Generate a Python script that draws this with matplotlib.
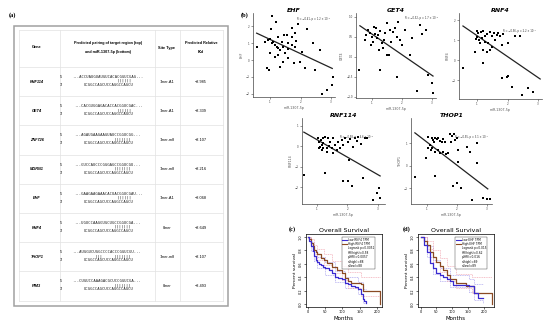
"""Composite figure: miR-1307-5p target table, expression scatters, survival curves."""

import matplotlib

matplotlib.use("Agg")
import matplotlib.pyplot as plt
from matplotlib.lines import Line2D
from matplotlib.patches import Rectangle

W, H = 550, 327

# ---- (a) table ----
genes = ["RNF114", "GET4", "ZNF726", "MGRN1", "EHF", "RNF4", "THOP1", "PIM3"]
targets = [
    "ACCUAUGUAUGUCACACGGUCGAG",
    "CACGUGGAGACACCACGGUCGAC",
    "AGAUGAAGAAGUAUCCGGUCGG",
    "GUCCAUCCCGGGAGCCGGUCGU",
    "GAAGAAGAAACACUACGGUCGAU",
    "UGUCCAAGGUGCUGCCGGUCGA",
    "AUGGUCUGGCCCCACCCGGUCGU",
    "CUGUCCAAAGACGCUCCGGUCGA",
]
pairings = ["||||||", "||||||", "|||||||", "|||||||", "||||||", "|||||||",
            "|||     |||||||", "|||||||"]
site_types = ["7mer-A1", "7mer-A1", "7mer-m8", "7mer-m8", "7mer-A1", "8mer",
              "7mer-m8", "8mer"]
kd_values = [-2.985, -2.339, -2.107, -2.216, -3.068, -2.649, -2.107, -3.493]
mirna = "UCGGCCAGCUCCAGGCCAGCU"

# ---- (b) scatter data (miR-1307-5p vs target expression) ----
ehf_x = [1.05, 1.19, 1.03, 0.57, 1.93, 2.2, 1.71, 1.82, 1.55, 1.47, 1.27, 1.38, 1.0, 1.11,
         0.92, 1.16, 1.22, 1.27, 1.33, 1.44, 1.6, 1.71, 1.49, 1.58, 1.82, 1.0, 1.16, 1.27,
         1.44, 1.33, 0.89, 0.95, 2.04, 1.98, 2.15, 2.48, 2.42, 2.64, 3.08, 3.04, 2.86, 2.69,
         1.71, 1.84, 1.05, 0.84, 1.6, 1.77]
ehf_y = [2.6, 2.24, 1.84, 0.8, 2.16, 1.84, 1.9, 1.6, 1.5, 1.5, 1.4, 1.1, 1.24, 1.1,
         1.2, 0.9, 0.8, 0.7, 0.6, 0.8, 1.0, 0.9, 0.4, 0.64, 0.8, 0.4, 0.2, 0.3,
         -0.1, -0.4, -0.5, -0.6, 0.5, -0.1, -0.5, -0.6, 1.0, 0.6, -1.0, -1.5, -1.76, -2.04,
         1.4, 1.16, 1.0, 1.1, 0.1, -0.2]
ehf_fit = ([0.56, 3.04], [1.6, -0.5])

get4_x = [1.07, 0.93, 1.0, 1.1, 1.17, 1.03, 1.27, 1.2, 1.33, 1.43, 1.5, 1.6, 1.7, 1.83,
          1.23, 1.5, 1.57, 0.57, 1.27, 1.83, 1.87, 2.0, 2.27, 2.67, 2.87, 3.0, 2.5, 3.03,
          0.87, 0.8, 1.13, 1.4, 1.63, 1.77, 2.1, 2.33, 0.77, 0.97, 1.37, 1.93, 2.6, 2.8]
get4_y = [0.75, 0.6, 0.5, 0.58, 0.48, 0.38, 0.65, 0.55, 0.35, 0.6, 0.85, 0.68, 0.63, 0.5,
          0.18, 0.05, 0.05, -0.33, -0.33, -0.5, 0.88, 0.3, 0.05, 0.58, -0.45, -0.65, -0.85, -0.9,
          0.68, 0.55, 0.73, 0.43, 0.38, 0.73, 0.68, 0.48, 0.43, 0.3, 0.23, 0.43, 0.8, 0.68]
get4_fit = ([0.6, 3.03], [0.78, -0.48])

rnf4_x = [0.54, 1.0, 1.03, 1.13, 1.2, 0.97, 1.07, 1.16, 1.26, 1.33, 1.43, 1.49, 1.56, 1.66,
          1.69, 1.75, 1.85, 2.25, 2.41, 1.26, 1.36, 1.49, 1.43, 1.2, 1.33, 0.93, 1.2, 2.02,
          1.82, 1.82, 1.98, 2.02, 2.15, 2.67, 2.84, 2.48, 1.1, 1.0, 1.59]
rnf4_y = [-0.4, 1.45, 1.35, 1.4, 1.45, 1.05, 1.0, 1.1, 1.2, 1.3, 1.4, 1.2, 1.35, 1.25,
          1.35, 1.2, 1.3, 1.2, 1.2, 0.9, 0.85, 0.65, 0.5, 0.5, 0.4, 0.4, -0.15, 0.85,
          0.75, -0.9, -0.85, -0.8, -1.35, -1.4, -1.6, -1.75, 0.85, 1.15, 1.0]
rnf4_fit = ([0.54, 3.07], [1.7, -0.95])

rnf114_x = [0.57, 1.26, 1.85, 2.02, 2.15, 2.05, 2.51, 2.84, 2.97, 3.03, 3.07, 2.64, 2.31, 2.44,
            2.08, 1.92, 1.82, 1.69, 1.59, 1.49, 1.33, 1.2, 1.16, 1.1, 1.07, 1.13, 1.03, 1.2,
            1.26, 1.36, 1.43, 1.52, 1.33, 1.66, 1.75, 1.85, 1.52, 1.16, 1.07, 1.2, 1.39, 2.02,
            2.25, 2.34, 2.57, 2.18]
rnf114_y = [-1.41, -1.32, -1.71, -1.71, -1.95, -0.68, -1.56, -2.63, -2.29, -2.05, -2.54, 0.39, 0.24, 0.1,
            0.34, 0.39, 0.29, 0.2, 0.05, -0.1, -0.1, 0.15, 0.05, -0.05, 0.2, 0.29, 0.39, 0.39,
            0.44, 0.39, 0.2, 0.39, -0.29, -0.2, -0.1, 0.05, -0.34, -0.2, -0.1, -0.1, 0.0, 0.2,
            0.39, 0.44, 0.39, -0.05]
rnf114_fit = ([0.57, 3.07], [0.68, -1.46])

thop1_x = [0.6, 0.97, 1.03, 1.03, 1.1, 1.17, 1.2, 1.23, 1.27, 1.33, 1.37, 1.43, 1.5, 1.53,
           1.6, 1.13, 1.17, 1.27, 1.37, 1.43, 1.53, 1.63, 1.7, 1.77, 1.83, 1.9, 2.0, 1.8,
           1.93, 2.03, 2.33, 2.43, 2.67, 2.03, 1.27, 1.87, 2.0, 2.13, 2.5, 2.87, 3.0, 3.1, 2.67]
thop1_y = [-0.49, 0.36, 1.29, 0.8, 0.93, 1.24, 1.16, 1.07, 1.24, 1.2, 1.24, 1.11, 1.07, 1.2,
           1.07, 0.71, 0.8, 0.62, 0.71, 0.58, 0.62, 0.53, 0.58, 1.42, 1.33, 1.42, 1.24, 1.07,
           1.16, 0.71, 0.84, 0.62, 1.02, 0.18, -0.44, -0.89, -0.76, -0.98, -1.51, -1.42, -1.47, -1.47, 0.13]
thop1_fit = ([0.6, 3.03], [1.47, -1.02])

# ---- (c)/(d) Kaplan-Meier curves (months, survival fraction) ----
c_low_t = [0, 5, 9, 14, 19, 24, 28, 33, 37, 45, 51, 60, 70, 79, 88, 98, 107, 116, 126, 135,
           144, 153, 158, 163, 167]
c_low_s = [1.0, 0.93, 0.86, 0.79, 0.72, 0.66, 0.62, 0.60, 0.58, 0.55, 0.53, 0.51, 0.46, 0.41,
           0.39, 0.37, 0.32, 0.30, 0.27, 0.25, 0.23, 0.15, 0.085, 0.05, 0.02]
c_high_t = [0, 5, 9, 14, 19, 24, 28, 37, 46, 56, 70, 84, 98, 107, 116, 126, 153, 158, 209]
c_high_s = [1.0, 0.96, 0.91, 0.86, 0.81, 0.77, 0.74, 0.69, 0.66, 0.61, 0.55, 0.51, 0.46,
            0.39, 0.34, 0.32, 0.30, 0.20, 0.0]
c_high_ci_t = [0, 9, 19, 28, 46, 70, 98, 116, 153, 209]
c_high_up = [1.0, 0.96, 0.88, 0.82, 0.74, 0.64, 0.56, 0.48, 0.41, 0.41]
c_high_lo = [1.0, 0.86, 0.74, 0.66, 0.58, 0.46, 0.36, 0.24, 0.13, 0.13]
c_low_ci_t = [0, 9, 19, 28, 51, 79, 107, 144, 158, 167]
c_low_up = [1.0, 0.92, 0.80, 0.70, 0.62, 0.50, 0.41, 0.33, 0.22, 0.22]
c_low_lo = [1.0, 0.79, 0.64, 0.54, 0.44, 0.33, 0.24, 0.15, 0.02, 0.02]
c_legend = ["Low RNF4 TPM", "High RNF4 TPM", "Logrank p=0.0051", "HR(high)=0.58",
            "p(HR)=0.0057", "n(high)=88", "n(low)=88"]

d_low_t = [0, 10, 19, 29, 40, 50, 60, 71, 82, 92, 102, 125, 154, 164, 170, 180, 196]
d_low_s = [1.0, 0.88, 0.78, 0.61, 0.54, 0.46, 0.43, 0.41, 0.37, 0.34, 0.29, 0.28, 0.27,
           0.27, 0.17, 0.10, 0.10]
d_high_t = [0, 10, 19, 29, 40, 50, 60, 71, 82, 92, 112, 144, 164, 170, 227]
d_high_s = [1.0, 0.94, 0.88, 0.78, 0.70, 0.63, 0.57, 0.51, 0.44, 0.37, 0.32, 0.27, 0.27,
            0.17, 0.0]
d_high_ci_t = [0, 19, 40, 60, 82, 112, 164, 227]
d_high_up = [1.0, 0.93, 0.80, 0.68, 0.56, 0.45, 0.40, 0.40]
d_high_lo = [1.0, 0.82, 0.62, 0.48, 0.35, 0.24, 0.16, 0.10]
d_low_ci_t = [0, 19, 40, 60, 92, 154, 170, 196]
d_low_up = [1.0, 0.86, 0.66, 0.54, 0.44, 0.38, 0.30, 0.30]
d_low_lo = [1.0, 0.70, 0.45, 0.34, 0.25, 0.18, 0.06, 0.02]
d_legend = ["Low EHF TPM", "High EHF TPM", "Logrank p=0.015", "HR(high)=0.62",
            "p(HR)=0.016", "n(high)=89", "n(low)=89"]

LOW_C, HIGH_C = "#3a2bd0", "#8a4a24"
LOW_CI, HIGH_CI = "#a9a2ee", "#f2a9b4"

fig = plt.figure(figsize=(5.5, 3.27), dpi=100)


def px_axes(x0, y0, x1, y1):
    return fig.add_axes([x0 / W, 1 - y1 / H, (x1 - x0) / W, (y1 - y0) / H])


bg = fig.add_axes([0, 0, 1, 1])
bg.set_xlim(0, W)
bg.set_ylim(H, 0)
bg.axis("off")

# panel labels
for lbl, x, y in [("(a)", 12, 15), ("(b)", 245, 15), ("(c)", 292, 229), ("(d)", 407, 229)]:
    bg.text(x, y, lbl, fontsize=4.5, fontweight="bold", ha="center", va="center",
            family="Liberation Serif")

# table frame and grid
bg.add_patch(Rectangle((14, 26), 214, 280, fill=False, ec="#a0a0a0", lw=1.1))
row_top, row_h = 67, 29.2
n = len(genes)
for k in range(n + 1):
    y = row_top + k * row_h
    bg.plot([19, 223], [y, y], color="#e2e2e2", lw=0.5)
bg.plot([19, 223], [30, 30], color="#e2e2e2", lw=0.5)
for x in [19, 60, 155, 180, 223]:
    bg.plot([x, x], [30, row_top + n * row_h], color="#e2e2e2", lw=0.5)

tf = "Liberation Sans"
bg.text(37, 47.5, "Gene", fontsize=2.8, fontweight="bold", ha="center", va="center", family=tf)
bg.text(108, 43, "Predicted pairing of target region (top)", fontsize=2.7,
        fontweight="bold", ha="center", va="center", family=tf)
bg.text(108, 52, "and miR-1307-5p (bottom)", fontsize=2.7, fontweight="bold",
        ha="center", va="center", family=tf)
bg.text(167, 47.5, "Site Type", fontsize=2.8, fontweight="bold", ha="center", va="center",
        family=tf)
bg.text(201, 43, "Predicted Relative", fontsize=2.7, fontweight="bold", ha="center",
        va="center", family=tf)
bg.text(201, 52, r"$\mathbf{K_d}$", fontsize=3.0, ha="center", va="center")

fs_seq = 2.8
cw = fs_seq * 100 / 72 * 0.602  # mono char width in px
x0 = 65
for i, g in enumerate(genes):
    yc = row_top + (i + 0.5) * row_h
    bg.text(37, yc, g, fontsize=2.8, fontweight="bold", style="italic", ha="center",
            va="center", family=tf)
    top = "..." + targets[i] + "..."
    pad = 28 - (top.index("GGUCG") + 5)
    bg.text(60, yc - 4.5, "5'", fontsize=2.6, ha="left", va="center", family=tf)
    bg.text(60, yc + 3.5, "3'", fontsize=2.6, ha="left", va="center", family=tf)
    bg.text(x0 + pad * cw, yc - 4.5, top, fontsize=fs_seq, ha="left", va="center",
            family="DejaVu Sans Mono", color="#222")
    bg.text(x0 + (28 - len(pairings[i])) * cw, yc - 0.6, pairings[i], fontsize=fs_seq,
            ha="left", va="center", family="DejaVu Sans Mono", color="#222")
    bg.text(x0 + 8 * cw, yc + 3.5, mirna, fontsize=fs_seq, ha="left", va="center",
            family="DejaVu Sans Mono", color="#222")
    bg.text(167, yc, site_types[i], fontsize=2.8, ha="center", va="center", family=tf)
    bg.text(201, yc, f"\u2212{abs(kd_values[i]):.3f}", fontsize=2.8, ha="center",
            va="center", family=tf)


def scatter_panel(box, xs, ys, fit, gene, note, note_xy, xlim, ylim, yticks):
    ax = px_axes(*box)
    ax.scatter(xs, ys, s=2.0, marker="s", color="black", lw=0, zorder=3)
    ax.plot(fit[0], fit[1], color="#222", lw=0.9)
    ax.set_xlim(*xlim)
    ax.set_ylim(*ylim)
    ax.set_xticks([1, 2, 3])
    ax.set_yticks(yticks)
    for s in ["top", "right"]:
        ax.spines[s].set_visible(False)
    for s in ["left", "bottom"]:
        ax.spines[s].set_linewidth(0.5)
        ax.spines[s].set_color("#444")
    ax.tick_params(length=1.5, width=0.4, labelsize=2, pad=0.8, colors="#444")
    ax.set_title(gene, fontsize=4.5, fontweight="bold", style="italic", pad=1)
    ax.set_xlabel("miR-1307-5p", fontsize=2.3, labelpad=1.5, color="#555")
    ax.set_ylabel(gene, fontsize=2.3, labelpad=1.5, color="#555")
    ax.text(note_xy[0], note_xy[1], note, fontsize=1.8, transform=ax.transAxes,
            ha="left", va="center", color="#333")
    return ax


scatter_panel((253, 13, 335, 97), ehf_x, ehf_y, ehf_fit, "EHF",
              "R = \u22120.41, p = 1.2 \u00d7 10\u207b\u2074", (0.54, 0.93),
              (0.44, 3.13), (-2.2, 2.8), [-2, -1, 0, 1, 2])
scatter_panel((356, 13, 436, 98), get4_x, get4_y, get4_fit, "GET4",
              "R = \u22120.52, p = 1.7 \u00d7 10\u207b\u2076", (0.61, 0.94),
              (0.47, 3.13), (-1.03, 1.1), [-1.0, -0.5, 0.0, 0.5, 1.0])
scatter_panel((459, 13, 542, 99), rnf4_x, rnf4_y, rnf4_fit, "RNF4",
              "R = \u22120.56, p = 2.2 \u00d7 10\u207b\u2077", (0.53, 0.79),
              (0.41, 3.13), (-1.95, 2.35), [-1, 0, 1, 2])
scatter_panel((302, 118, 385, 204), rnf114_x, rnf114_y, rnf114_fit, "RNF114",
              "R = \u22120.58, p = 4.6 \u00d7 10\u207b\u2078", (0.46, 0.78),
              (0.51, 3.23), (-2.83, 1.37), [-2, -1, 0, 1])
scatter_panel((411, 118, 492, 204), thop1_x, thop1_y, thop1_fit, "THOP1",
              "R = \u22120.55, p = 3.1 \u00d7 10\u207b\u2077", (0.54, 0.78),
              (0.47, 3.17), (-1.69, 2.13), [-1, 0, 1])


def km_panel(box, low, high, low_ci, high_ci, legend_labels, xlim):
    ax = px_axes(*box)
    ax.step(low_ci[0], low_ci[1], where="post", color=LOW_CI, lw=0.5, ls=(0, (1.5, 1)))
    ax.step(low_ci[0], low_ci[2], where="post", color=LOW_CI, lw=0.5, ls=(0, (1.5, 1)))
    ax.step(high_ci[0], high_ci[1], where="post", color=HIGH_CI, lw=0.5, ls=(0, (1.5, 1)))
    ax.step(high_ci[0], high_ci[2], where="post", color=HIGH_CI, lw=0.5, ls=(0, (1.5, 1)))
    ax.step(high[0], high[1], where="post", color=HIGH_C, lw=0.9)
    ax.step(low[0], low[1], where="post", color=LOW_C, lw=0.9)
    ax.set_xlim(*xlim)
    ax.set_ylim(-0.04, 1.04)
    ax.set_xticks([0, 50, 100, 150, 200])
    ax.set_yticks([0.0, 0.2, 0.4, 0.6, 0.8, 1.0])
    ax.set_yticklabels(["0.0", "0.2", "0.4", "0.6", "0.8", "1.0"], rotation=90, va="center")
    for s in ax.spines.values():
        s.set_linewidth(0.5)
    ax.tick_params(length=1.5, width=0.4, labelsize=2.5, pad=0.8)
    ax.set_title("Overall Survival", fontsize=4.5, pad=1.5)
    ax.set_xlabel("Months", fontsize=4, labelpad=1)
    ax.set_ylabel("Percent survival", fontsize=3.2, labelpad=1.5)
    handles = [Line2D([], [], color=LOW_C, lw=0.8), Line2D([], [], color=HIGH_C, lw=0.8)]
    handles += [Line2D([], [], color="none")] * (len(legend_labels) - 2)
    leg = ax.legend(handles, legend_labels, loc="upper right", bbox_to_anchor=(0.93, 0.98),
                    fontsize=2.1, handlelength=1.6, handletextpad=0.3, borderpad=0.3,
                    labelspacing=0.12, frameon=True, fancybox=False)
    leg.get_frame().set_linewidth(0.3)
    leg.get_frame().set_edgecolor("black")
    return ax


km_panel((306, 234, 382, 307), (c_low_t, c_low_s), (c_high_t, c_high_s),
         (c_low_ci_t, c_low_up, c_low_lo), (c_high_ci_t, c_high_up, c_high_lo),
         c_legend, (-5, 214))
km_panel((418, 234, 494, 307), (d_low_t, d_low_s), (d_high_t, d_high_s),
         (d_low_ci_t, d_low_up, d_low_lo), (d_high_ci_t, d_high_up, d_high_lo),
         d_legend, (-8, 232))

fig.savefig("out.png", dpi=100)
